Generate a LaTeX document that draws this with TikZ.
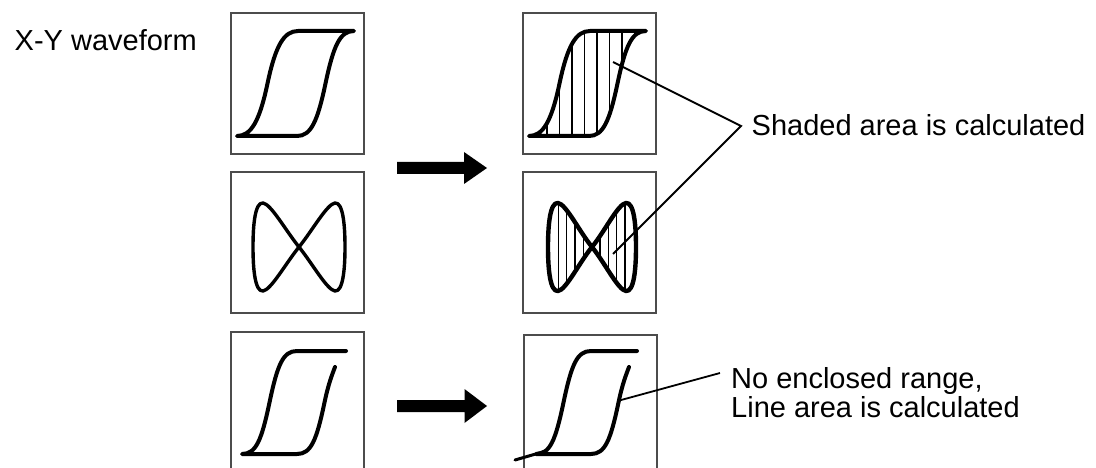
\documentclass[tikz,border=0pt]{standalone}
\usepackage{fontspec}
\setmainfont{Liberation Sans}
% S-shaped rising branch: start point (#1,#2), width #3, height #4
\newcommand\Sup[4]{.. controls ([shift={(#1,#2)}]14,0) and ([shift={(#1,#2)}]{#3/2-8},{-#4/2+38}) .. ([shift={(#1,#2)}]{#3/2},{-#4/2}) .. controls ([shift={(#1,#2)}]{#3/2+8},{-#4/2-38}) and ([shift={(#1,#2)}]{#3-14},{-#4}) .. ([shift={(#1,#2)}]{#3},{-#4})}
% same branch traversed downwards (current point is its top end)
\newcommand\Sdown[4]{.. controls ([shift={(#1,#2)}]{#3-14},{-#4}) and ([shift={(#1,#2)}]{#3/2+8},{-#4/2-38}) .. ([shift={(#1,#2)}]{#3/2},{-#4/2}) .. controls ([shift={(#1,#2)}]{#3/2-8},{-#4/2+38}) and ([shift={(#1,#2)}]14,0) .. (#1,#2)}
% figure eight: centre x #1, outer half width #2
\newcommand\eightpath[2]{({#1},247) .. controls ({#1-13},231) and ({#1-#2+18},204) .. ({#1-#2+10},203) .. controls ({#1-#2+2},202) and ({#1-#2},225) .. ({#1-#2},247) .. controls ({#1-#2},269) and ({#1-#2+2},292) .. ({#1-#2+10},291) .. controls ({#1-#2+18},290) and ({#1-13},263) .. ({#1},247) .. controls ({#1+13},231) and ({#1+#2-18},204) .. ({#1+#2-10},203) .. controls ({#1+#2-2},202) and ({#1+#2},225) .. ({#1+#2},247) .. controls ({#1+#2},269) and ({#1+#2-2},292) .. ({#1+#2-10},291) .. controls ({#1+#2-18},290) and ({#1+13},263) .. ({#1},247) -- cycle}
\begin{document}
\begin{tikzpicture}[x=1pt,y=-1pt,
  panel/.style={draw=black!70,line width=1.3pt,minimum width=133pt,minimum height=141pt,inner sep=0pt,outer sep=0pt},
  curve/.style={line width=4pt,line join=round,line cap=round},
  hatch/.style={line width=1.2pt},
  leader/.style={line width=1.8pt},
  lbl/.style={font=\fontsize{29}{29}\selectfont,inner sep=0pt,anchor=base west}]
\useasboundingbox (0,0) rectangle (1096,468);
\clip (0,0) rectangle (1096,468);
\fill[white] (0,0) rectangle (1096,468);

% panels
\node[panel] (tl) at (297.5,83.5) {};
\node[panel] (ml) at (297.5,242.5) {};
\node[panel] (bl) at (297.5,402.5) {};
\node[panel] (tr) at (589.5,83.5) {};
\node[panel] (mr) at (589.5,242.5) {};
\node[panel] (br) at (590.5,405.5) {};

% top-left hysteresis loop
\draw[curve] (237,136) \Sup{237}{136}{61}{105} -- (354,31) \Sdown{297}{136}{57}{105} -- cycle;

% middle-left figure eight
\draw[curve,line width=3.4pt] \eightpath{299}{46};

% bottom-left open loop
\draw[curve] (335,367) .. controls (332,375) and (328.5,383.5) .. (324.5,402.5) .. controls (316.5,440.5) and (311,454) .. (297,454) -- (242,454) \Sup{242}{454}{55}{103} -- (346,351);

% top-right hysteresis loop with hatching
\begin{scope}
  \clip (529,136) \Sup{529}{136}{61}{105} -- (646,31) \Sdown{589}{136}{57}{105} -- cycle;
  \foreach \k in {0,...,7} \draw[hatch] ({547+12.5*\k},20) -- ++(0,130);
\end{scope}
\draw[curve] (529,136) \Sup{529}{136}{61}{105} -- (646,31) \Sdown{589}{136}{57}{105} -- cycle;

% middle-right figure eight with hatching
\begin{scope}
  \clip \eightpath{592}{44};
  \foreach \k in {0,...,8} \draw[hatch] ({558.3+8.33*\k},195) -- ++(0,105);
\end{scope}
\draw[curve,line width=4.4pt] \eightpath{592}{44};

% bottom-right open loop
\draw[curve] (629,367) .. controls (626,375) and (622.5,383.5) .. (618.5,402.5) .. controls (610.5,440.5) and (605,454) .. (591,454) -- (536,454) \Sup{536}{454}{55}{103} -- (637,351);
\draw[curve,line width=3pt] (515,460) -- (545,451.3);

% big arrows
\fill (397,162) -- (464,162) -- (464,152) -- (487,168) -- (464,184) -- (464,174) -- (397,174) -- cycle;
\fill (397,400) -- (464.5,400) -- (464.5,389) -- (487,406) -- (464.5,423) -- (464.5,412) -- (397,412) -- cycle;

% labels
\node[lbl,anchor=base east] (xy) at (197,51) {X-Y waveform};
\node[lbl] (sh) at (751.5,136) {Shaded area is calculated};
\node[lbl] (ne1) at (731,388.5) {No enclosed range,};
\node[lbl] (ne2) at (731,417.5) {Line area is calculated};

% leader lines
\coordinate (v) at (741,126);
\coordinate (p1) at (613,62);
\coordinate (p2) at (613,254);
\draw[leader,line join=miter] (p1) -- (v) -- (p2);
\coordinate (p3) at (619.3,400.5);
\coordinate (q3) at (720,373);
\draw[leader] (p3) -- (q3);
\end{tikzpicture}
\end{document}
